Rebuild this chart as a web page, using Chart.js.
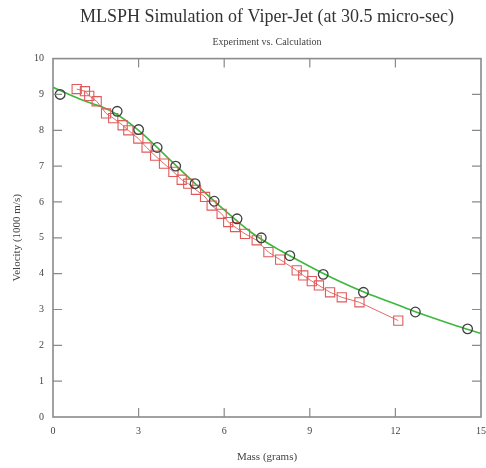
<!DOCTYPE html>
<html>
<head>
<meta charset="utf-8">
<script src="https://cdn.jsdelivr.net/npm/chart.js@4"></script>
<style>
  html, body { margin:0; padding:0; background:#fff; }
  #wrap { width:486px; height:468px; }
</style>
</head>
<body>
<div id="wrap"><canvas id="jetChart" width="486" height="468"></canvas></div>
<script>
// experiment (circles) and calculation (squares), mass in grams, velocity in 1000 m/s
var expMass  = [0.25, 2.25, 3.0, 3.65, 4.3, 4.98, 5.65, 6.45, 7.3, 8.3, 9.47, 10.88, 12.7, 14.53];
var expVel   = [9.0, 8.53, 8.02, 7.52, 7.0, 6.51, 6.02, 5.53, 5.0, 4.5, 3.98, 3.48, 2.93, 2.46];

var calcMass = [0.83, 1.12, 1.27, 1.53, 1.86, 2.11, 2.44, 2.64, 2.99, 3.28, 3.58, 3.89, 4.22, 4.51, 4.74,
                5.01, 5.33, 5.56, 5.91, 6.14, 6.38, 6.73, 7.14, 7.55, 7.96, 8.54, 8.77, 9.07, 9.32, 9.71,
                10.12, 10.74, 12.1];
var calcVel  = [9.15, 9.09, 8.96, 8.81, 8.47, 8.34, 8.14, 8.0, 7.77, 7.52, 7.29, 7.07, 6.84, 6.62, 6.51,
                6.34, 6.14, 5.9, 5.67, 5.44, 5.3, 5.11, 4.93, 4.6, 4.39, 4.09, 3.95, 3.79, 3.67, 3.48,
                3.34, 3.2, 2.69];

// green fit curve through the experiment
var fitMass  = [0, 1, 2, 3, 4, 5, 6, 7, 8, 9, 10, 11, 12, 13, 14, 15];
var fitVel   = [9.2, 8.85, 8.55, 8.0, 7.25, 6.5, 5.78, 5.12, 4.63, 4.2, 3.8, 3.45, 3.15, 2.85, 2.58, 2.33];

var xTicks = [0, 3, 6, 9, 12, 15];
var yTicks = [0, 1, 2, 3, 4, 5, 6, 7, 8, 9, 10];

function pts(xs, ys) {
    return xs.map(function (x, i) { return { x: x, y: ys[i] }; });
}

var serif = '"Liberation Serif", "DejaVu Serif", serif';
var axisGray = '#8a8a8a';

// frame + inward tick marks on all four sides
var framePlugin = {
    id: 'frame',
    afterDatasetsDraw: function (chart) {
        var c = chart.ctx, a = chart.chartArea, sx = chart.scales.x, sy = chart.scales.y, len = 9;
        c.save();
        c.strokeStyle = axisGray;
        c.lineWidth = 1.6;
        c.strokeRect(a.left, a.top, a.right - a.left, a.bottom - a.top);
        c.lineWidth = 1.2;
        c.beginPath();
        xTicks.forEach(function (v) {
            if (v === xTicks[0] || v === xTicks[xTicks.length - 1]) return;
            var px = sx.getPixelForValue(v);
            c.moveTo(px, a.bottom); c.lineTo(px, a.bottom - len);
            c.moveTo(px, a.top);    c.lineTo(px, a.top + len);
        });
        yTicks.forEach(function (v) {
            if (v === yTicks[0] || v === yTicks[yTicks.length - 1]) return;
            var py = sy.getPixelForValue(v);
            c.moveTo(a.left, py);  c.lineTo(a.left + len, py);
            c.moveTo(a.right, py); c.lineTo(a.right - len, py);
        });
        c.stroke();
        c.restore();
    }
};

new Chart(document.getElementById('jetChart'), {
    type: 'scatter',
    data: {
        datasets: [
            { label: 'Fit', data: pts(fitMass, fitVel), showLine: true, borderColor: '#3cb83c',
              borderWidth: 1.6, pointRadius: 0, cubicInterpolationMode: 'monotone', order: 3 },
            { label: 'Calculation', data: pts(calcMass, calcVel), showLine: true, borderColor: '#e26a6a',
              borderWidth: 1, pointStyle: 'rect', pointRadius: 6.5, pointBorderWidth: 1.1,
              pointBorderColor: '#e05a5a', pointBackgroundColor: 'rgba(0,0,0,0)', order: 2 },
            { label: 'Experiment', data: pts(expMass, expVel), showLine: false,
              pointStyle: 'circle', pointRadius: 4.8, pointBorderWidth: 1.3,
              pointBorderColor: '#404040', pointBackgroundColor: 'rgba(0,0,0,0)', order: 1 }
        ]
    },
    options: {
        responsive: false, animation: false,
        layout: { autoPadding: false, padding: { left: 0, right: 5, top: 0, bottom: 0 } },
        plugins: {
            legend: { display: false },
            tooltip: { enabled: false },
            title: { display: true, text: 'MLSPH Simulation of Viper-Jet (at 30.5 micro-sec)',
                     fullSize: false, color: '#333', font: { family: serif, size: 18, weight: 'normal' },
                     padding: { top: 6, bottom: 9 } },
            subtitle: { display: true, text: 'Experiment vs. Calculation', fullSize: false,
                        color: '#444', font: { family: serif, size: 10 },
                        padding: { top: 0, bottom: 10 } }
        },
        scales: {
            x: { type: 'linear', min: 0, max: 15,
                 afterFit: function (s) { s.height = 51; s.paddingLeft = 0; s.paddingRight = 0; },
                 afterBuildTicks: function (s) { s.ticks = xTicks.map(function (v) { return { value: v }; }); },
                 grid: { display: false, drawTicks: false },
                 border: { display: false },
                 ticks: { padding: 8, color: '#444', font: { family: serif, size: 10 }, maxRotation: 0 },
                 title: { display: true, text: 'Mass (grams)', color: '#444',
                          font: { family: serif, size: 11 }, padding: { top: 0, bottom: 4 } } },
            y: { type: 'linear', min: 0, max: 10,
                 afterFit: function (s) { s.width = 53; s.paddingTop = 0; s.paddingBottom = 0; },
                 afterBuildTicks: function (s) { s.ticks = yTicks.map(function (v) { return { value: v }; }); },
                 grid: { display: false, drawTicks: false },
                 border: { display: false },
                 ticks: { padding: 9, color: '#444', font: { family: serif, size: 10 } },
                 title: { display: true, text: 'Velocity (1000 m/s)', color: '#444',
                          font: { family: serif, size: 11 }, padding: { top: 11, bottom: 0 } } }
        }
    },
    plugins: [framePlugin]
});
</script>
</body>
</html>
